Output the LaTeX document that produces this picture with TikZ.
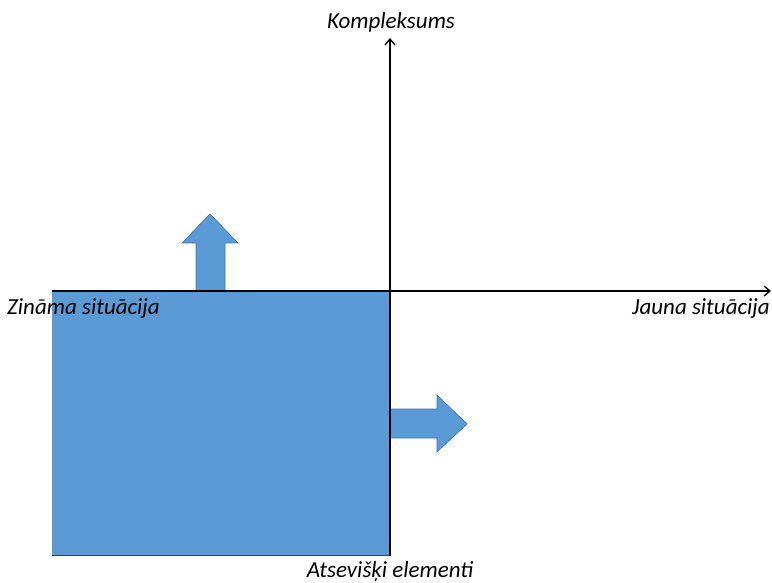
\documentclass[tikz,border=0pt]{standalone}
\usepackage{fontspec}
\setmainfont{Carlito}
\usetikzlibrary{arrows.meta}
\definecolor{boxblue}{HTML}{5B9BD5}
\definecolor{edgeblue}{HTML}{41719C}
\tikzset{
  axisline/.style={line width=1.5pt, -{Straight Barb[length=6pt,width=10pt,line width=1.3pt]}},
  fatarrow/.style={fill=boxblue, draw=edgeblue, line width=0.6pt, line join=miter},
  lbl/.style={font=\fontsize{23}{26}\selectfont\itshape, inner sep=0pt}
}
\begin{document}
\begin{tikzpicture}[x=1pt,y=-1pt]
\useasboundingbox (0,0) rectangle (772,583);
% box
\fill[boxblue] (52,291) rectangle (390,555);
\draw[edgeblue!60!black, line width=0.8pt] (52,555) -- (390,555);
% up arrow
\draw[fatarrow] (196,291) -- (196,243) -- (182,243) -- (210,214) -- (238,243) -- (225,243) -- (225,291) -- cycle;
% right arrow
\draw[fatarrow] (390,409) -- (437,409) -- (437,395) -- (467,424) -- (437,452) -- (437,438) -- (390,438) -- cycle;
% axes
\coordinate (o) at (390,291);
\coordinate (ybot) at (390,556);
\coordinate (ytop) at (390,38);
\coordinate (xleft) at (52,291);
\coordinate (xright) at (771,291);
\draw[line width=1.9pt] (xleft) -- (o);
\draw[axisline] (o) -- (xright);
\draw[axisline] (ybot) -- (ytop);
% labels
\node[lbl] (kompl) at (391,22) {Kompleksums};
\node[lbl, anchor=west] (zin) at (7,309) {Zināma situācija};
\node[lbl, anchor=east] (jau) at (770,309) {Jauna situācija};
\node[lbl] (ats) at (390,572) {Atsevišķi elementi};
\end{tikzpicture}
\end{document}
